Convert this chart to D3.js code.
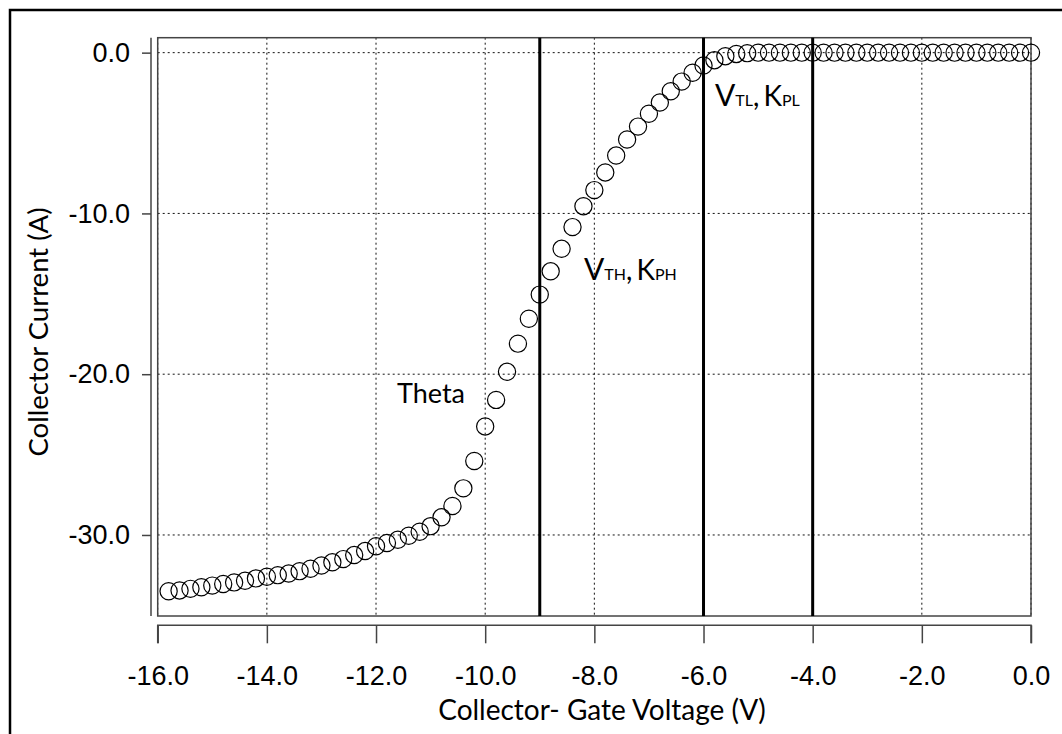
<!DOCTYPE html>
<html>
<head>
<meta charset="utf-8">
<script src="https://cdn.jsdelivr.net/npm/d3@7"></script>
<style>
  html, body { margin: 0; padding: 0; background: #fff; }
  svg { display: block; }
</style>
</head>
<body>
<svg id="chart" width="1062" height="734"></svg>
<script>
// ---- data ----
const voltage = [
  -15.8, -15.6, -15.4, -15.2, -15.0, -14.8, -14.6, -14.4, -14.2, -14.0,
  -13.8, -13.6, -13.4, -13.2, -13.0, -12.8, -12.6, -12.4, -12.2, -12.0,
  -11.8, -11.6, -11.4, -11.2, -11.0, -10.8, -10.6, -10.4, -10.2, -10.0,
  -9.8, -9.6, -9.4, -9.2, -9.0, -8.8, -8.6, -8.4, -8.2, -8.0,
  -7.8, -7.6, -7.4, -7.2, -7.0, -6.8, -6.6, -6.4, -6.2, -6.0,
  -5.8, -5.6, -5.4, -5.2, -5.0, -4.8, -4.6, -4.4, -4.2, -4.0,
  -3.8, -3.6, -3.4, -3.2, -3.0, -2.8, -2.6, -2.4, -2.2, -2.0,
  -1.8, -1.6, -1.4, -1.2, -1.0, -0.8, -0.6, -0.4, -0.2, 0.0
];
const current = [
  -33.5, -33.45, -33.35, -33.25, -33.15, -33.05, -32.95, -32.85, -32.7, -32.6,
  -32.5, -32.4, -32.25, -32.1, -31.9, -31.7, -31.5, -31.25, -31.0, -30.7,
  -30.5, -30.3, -30.05, -29.8, -29.45, -28.9, -28.2, -27.1, -25.4, -23.25,
  -21.6, -19.85, -18.1, -16.55, -15.05, -13.6, -12.2, -10.85, -9.55, -8.55,
  -7.45, -6.4, -5.4, -4.6, -3.8, -3.1, -2.4, -1.8, -1.25, -0.8,
  -0.47, -0.22, -0.08, -0.03, 0, 0, 0, 0, 0, 0,
  0, 0, 0, 0, 0, 0, 0, 0, 0, 0,
  0, 0, 0, 0, 0, 0, 0, 0, 0, 0
];
const xTicks = [-16, -14, -12, -10, -8, -6, -4, -2, 0];
const xTickLabels = ["-16.0", "-14.0", "-12.0", "-10.0", "-8.0", "-6.0", "-4.0", "-2.0", "0.0"];
const yTicks = [0, -10, -20, -30];
const yTickLabels = ["0.0", "-10.0", "-20.0", "-30.0"];
const markerLines = [-9, -6, -4];
const xTitle = "Collector- Gate Voltage (V)";
const yTitle = "Collector Current (A)";

// ---- layout ----
const svg = d3.select("#chart");
const L = 157.7, R = 1031, T = 37.7, B = 616;
const x = d3.scaleLinear().domain([-16, 0]).range([L, R]);
const y = d3.scaleLinear().domain([-35.04, 0.93]).range([B, T]);

// outer frame (top and left edges visible)
svg.append("path")
  .attr("d", `M10,734 L10,10 L1062,10`)
  .attr("fill", "none").attr("stroke", "#000").attr("stroke-width", 2.5);

// grid
const grid = svg.append("g").attr("stroke", "#111").attr("stroke-width", 1)
  .attr("stroke-dasharray", "2,3");
grid.selectAll("line.gx").data(xTicks).join("line")
  .attr("x1", d => x(d)).attr("x2", d => x(d)).attr("y1", T).attr("y2", B);
grid.selectAll("line.gy").data(yTicks).join("line")
  .attr("y1", d => y(d)).attr("y2", d => y(d)).attr("x1", L).attr("x2", R);

// plot border
svg.append("rect").attr("x", L).attr("y", T).attr("width", R - L).attr("height", B - T)
  .attr("fill", "none").attr("stroke", "#444").attr("stroke-width", 1.5);

// vertical marker lines
svg.selectAll("line.mk").data(markerLines).join("line")
  .attr("x1", d => x(d)).attr("x2", d => x(d)).attr("y1", T).attr("y2", B)
  .attr("stroke", "#000").attr("stroke-width", 3);

// data points
const pts = voltage.map((v, i) => ({ v, c: current[i] }));
svg.append("g").selectAll("circle").data(pts).join("circle")
  .attr("cx", d => x(d.v)).attr("cy", d => y(d.c)).attr("r", 8.6)
  .attr("fill", "none").attr("stroke", "#000").attr("stroke-width", 1.2);

// axes
const tickFont = "'Liberation Sans', Arial, sans-serif";
const yAxis = svg.append("g").attr("transform", "translate(151,0)")
  .call(d3.axisLeft(y).tickValues(yTicks).tickSize(9).tickPadding(12)
    .tickFormat((d, i) => yTickLabels[i]));
const xAxis = svg.append("g").attr("transform", "translate(0,625.3)")
  .call(d3.axisBottom(x).tickValues(xTicks).tickSize(18).tickPadding(23)
    .tickFormat((d, i) => xTickLabels[i]));
[yAxis, xAxis].forEach(a => {
  a.select(".domain").attr("stroke", "#444").attr("stroke-width", 1.5);
  a.selectAll(".tick line").attr("stroke", "#444").attr("stroke-width", 1.5);
  a.selectAll(".tick text").attr("fill", "#000")
    .style("font-family", tickFont).style("font-size", "27px");
});
yAxis.select(".domain").attr("d", `M0,${T}V${B}`);
xAxis.select(".domain").attr("d", `M${L},18V0H${R}V18`);

// titles
const titleFont = "Lato, 'Open Sans', sans-serif";
svg.append("text").attr("x", 602).attr("y", 720).attr("text-anchor", "middle")
  .style("font-family", titleFont).style("font-size", "28px").attr("fill", "#000")
  .text(xTitle);
svg.append("text").attr("transform", "translate(48,332) rotate(-90)")
  .attr("text-anchor", "middle")
  .style("font-family", titleFont).style("font-size", "27.5px").attr("fill", "#000")
  .text(yTitle);

// annotations
function label(xp, yp, parts) {
  const t = svg.append("text").attr("x", xp).attr("y", yp)
    .style("font-family", titleFont).attr("fill", "#000");
  parts.forEach(p => t.append("tspan").style("font-size", p[1] + "px").text(p[0]));
}
label(715, 106, [["V", 30], ["TL", 16], [",", 28], [" ", 16], ["K", 28], ["PL", 16]]);
label(584, 280, [["V", 30], ["TH", 16], [",", 28], [" ", 16], ["K", 28], ["PH", 16]]);
label(397, 403, [["Theta", 27]]);
</script>
</body>
</html>
